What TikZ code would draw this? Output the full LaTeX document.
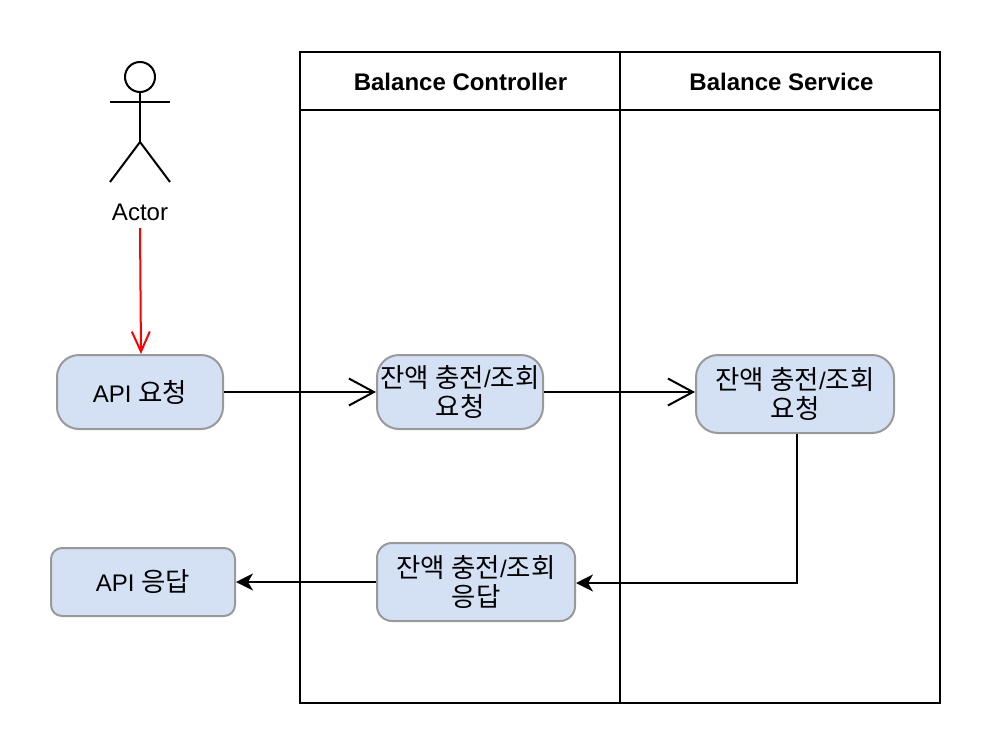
\documentclass[tikz,border=0pt]{standalone}
\usepackage{fontspec}
\setmainfont{Liberation Sans}
\newfontfamily\cjk{Noto Sans CJK KR}
\usetikzlibrary{arrows.meta,positioning}
\newcommand{\ko}[1]{{\fontsize{26.5}{28}\selectfont\cjk #1}}
\definecolor{boxblue}{HTML}{D4E1F5}
\tikzset{
  x=1pt,y=-1pt,
  lane/.style={draw=black,line width=2pt,fill=white},
  lanehead/.style={font=\fontsize{24}{28}\selectfont\bfseries,anchor=center},
  act/.style={draw=black!40,line width=2pt,fill=boxblue,rounded corners=22pt,align=center,inner sep=0pt,font=\fontsize{24}{28}\selectfont},
  flow/.style={line width=2pt,-{Straight Barb[length=25pt,width=27pt,line width=2pt]}},
  redflow/.style={red,line width=2pt,-{Straight Barb[length=20pt,width=18pt,line width=2pt]}},
  solidflow/.style={line width=2pt,-{Stealth[length=17pt,width=17pt,inset=5pt]}},
  stick/.style={draw=black,line width=2pt}
}
\begin{document}
\begin{tikzpicture}
\useasboundingbox (0,0) rectangle (992,754);
\fill[white] (0,0) rectangle (992,754);
\draw[lane] (300,52) rectangle (620,703);
\draw[lane] (620,52) rectangle (940,703);
\draw[lane] (300,110) -- (940,110);
\node[lanehead] (h1) at (460.5,81.5) {Balance Controller};
\node[lanehead] (h2) at (781.5,81.5) {Balance Service};
% actor
\draw[stick] (140,77) circle (15);
\draw[stick] (140,92) -- (140,142);
\draw[stick] (110,102) -- (170,102);
\draw[stick] (110,182) -- (140,142) -- (170,182);
\node[font=\fontsize{24}{28}\selectfont] (actor) at (140,212) {Actor};
\coordinate (actorout) at (140,228);
% boxes
\node[act,minimum width=166pt,minimum height=74pt] (a) at (140,392) {API \ko{요청}};
\node[act,minimum width=166pt,minimum height=74pt] (b) at (460,392) {\raisebox{1pt}{\ko{잔액 충전}/\ko{조회}}\\\ko{요청}};
\node[act,minimum width=198pt,minimum height=78pt] (c) at (795,394) {\raisebox{1pt}{\ko{잔액 충전}/\ko{조회}}\\\ko{요청}};
\node[act,minimum width=198pt,minimum height=78pt,rounded corners=15pt] (d) at (476,582) {\raisebox{1pt}{\ko{잔액 충전}/\ko{조회}}\\\ko{응답}};
\node[act,minimum width=184pt,minimum height=68pt,rounded corners=11pt] (e) at (143,582) {API \ko{응답}};
% connectors
\draw[redflow] (actorout) -- ([xshift=1pt]a.north);
\draw[flow] (a.east) -- (b.west);
\draw[flow] (b.east) -- (c.west |- b.east);
\draw[solidflow] ([xshift=2pt]c.south) |- ([yshift=-1pt]d.east);
\draw[solidflow] (d.west) -- (e.east);
\end{tikzpicture}
\end{document}
